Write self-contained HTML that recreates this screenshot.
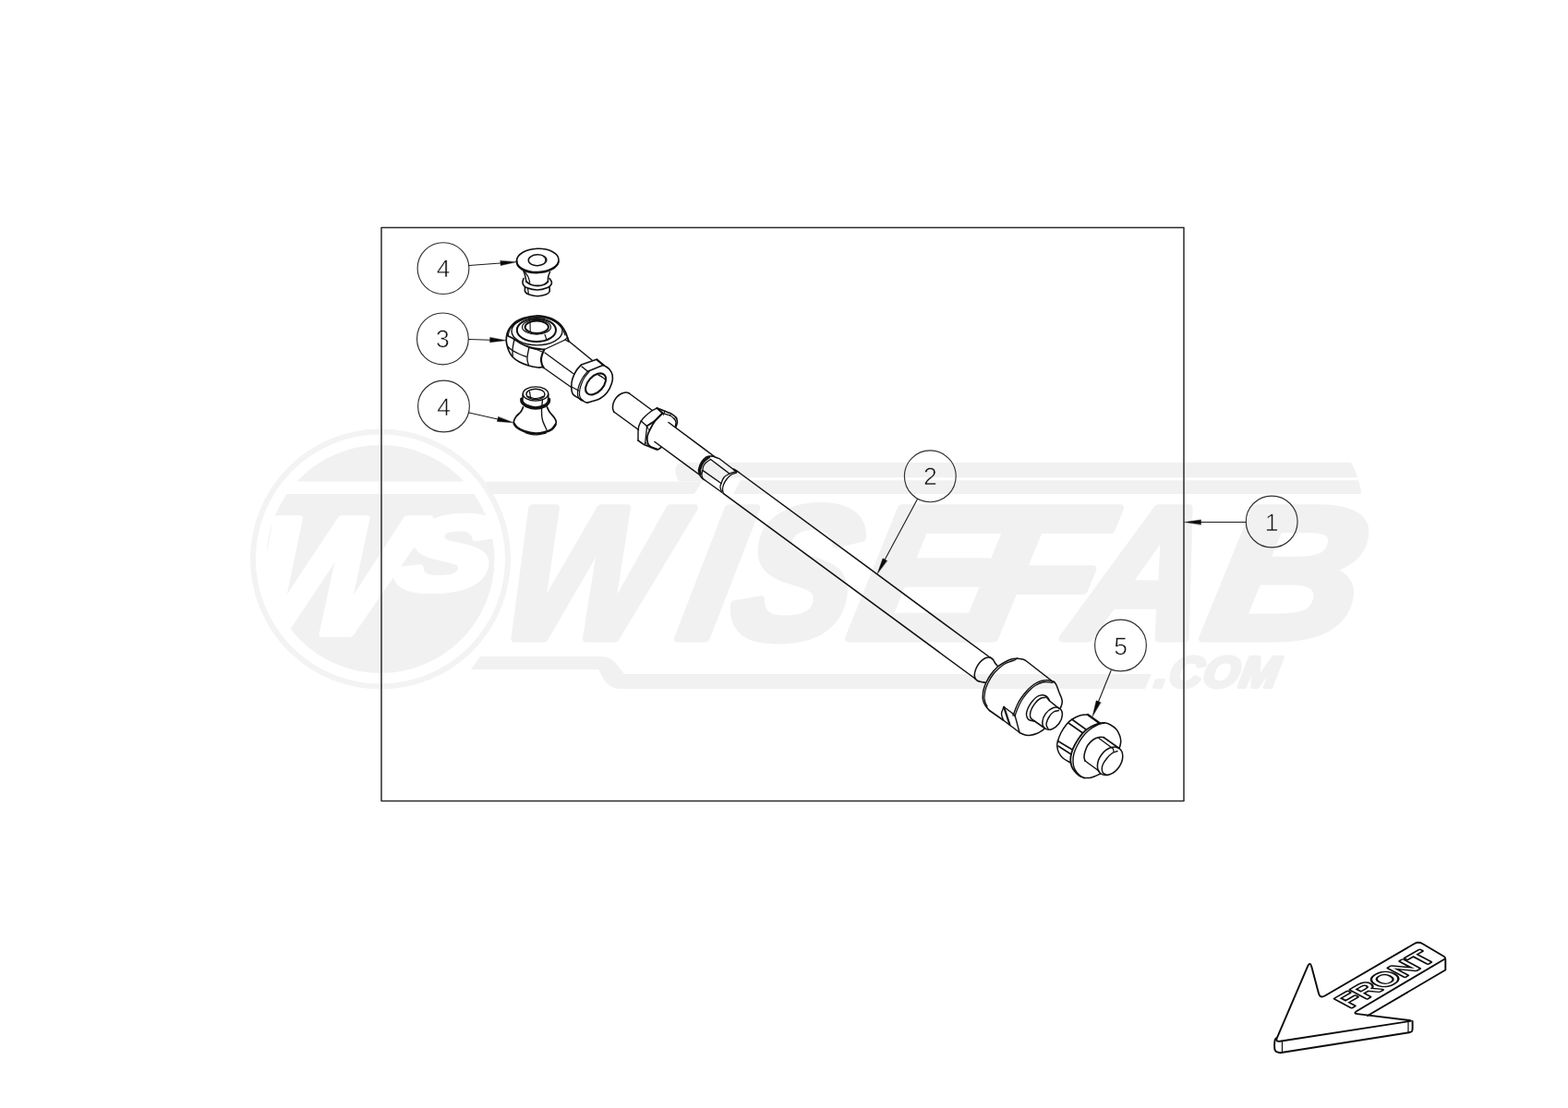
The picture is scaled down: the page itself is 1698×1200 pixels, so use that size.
<!DOCTYPE html>
<html lang="en"><head><meta charset="utf-8"><title>Tie rod assembly - exploded view</title>
<style>
html,body{margin:0;padding:0;background:#fff;}
body{width:1698px;height:1200px;overflow:hidden;font-family:"Liberation Sans",sans-serif;}
svg{display:block;filter:grayscale(1);}
.bt{font-family:"Liberation Sans",sans-serif;font-size:26.5px;text-anchor:middle;fill:#151515;stroke:#fafafa;stroke-width:0.55px;}
</style></head><body>
<svg width="1698" height="1200" viewBox="0 0 1698 1200" stroke-linecap="round" stroke-linejoin="round" text-rendering="geometricPrecision">
<rect width="1698" height="1200" fill="#fff"/>
<g id="wm">
<circle cx="412" cy="605.5" r="138" fill="none" stroke="#f3f3f3" stroke-width="6"/>
<circle cx="412" cy="605.5" r="123.5" fill="#f1f1f1"/>
<clipPath id="dc"><circle cx="412" cy="605.5" r="124.5"/></clipPath>
<rect x="280" y="521.5" width="260" height="13.5" fill="#fff" clip-path="url(#dc)"/>
<g clip-path="url(#dc)"><text transform="translate(0 685.5) skewX(-14)" font-family="Liberation Sans, sans-serif" font-weight="bold" font-style="italic" fill="#fff" stroke="#fff" stroke-width="8" stroke-linejoin="round"><tspan x="256" y="0" font-size="180" textLength="166" lengthAdjust="spacingAndGlyphs">W</tspan><tspan x="412" y="-48" font-size="112" textLength="102" lengthAdjust="spacingAndGlyphs">S</tspan></text></g>
<path d="M526 521.5L760 521.5L752 535L531 535Z" fill="#f1f1f1" stroke="none" stroke-width="0"/>
<path d="M742 501L1463 501Q1468 508 1470 517.3L800 517.3L760 521.5L735 521.5Q725 501 742 501Z" fill="#f1f1f1" stroke="none" stroke-width="0"/>
<path d="M802 520.3L1471 520.3Q1474 528 1474 535L794 535Z" fill="#f1f1f1" stroke="none" stroke-width="0"/>
<path d="M520 711L650 711Q662 711 668 720L676 730L1247 730L1240 746L672 746Q660 746 654 736L648 725L510 725Z" fill="#f1f1f1" stroke="none" stroke-width="0"/>
<text transform="translate(0 691) skewX(-10.8)" y="0" font-family="Liberation Sans, sans-serif" font-weight="bold" font-style="italic" font-size="204" fill="#f1f1f1" stroke="#f1f1f1" stroke-width="9" stroke-linejoin="round"><tspan x="536" textLength="175.7" lengthAdjust="spacingAndGlyphs">W</tspan><tspan x="731" textLength="57.49" lengthAdjust="spacingAndGlyphs">I</tspan><tspan x="786" textLength="129.16" lengthAdjust="spacingAndGlyphs">S</tspan><tspan x="916" textLength="150.48" lengthAdjust="spacingAndGlyphs">E</tspan><tspan x="1039" textLength="141.29" lengthAdjust="spacingAndGlyphs">F</tspan><tspan x="1155" textLength="142.52" lengthAdjust="spacingAndGlyphs">A</tspan><tspan x="1299" textLength="165.6" lengthAdjust="spacingAndGlyphs">B</tspan></text>
<text transform="translate(1249 743.5) skewX(-10) scale(1.06 1)" font-family="Liberation Sans, sans-serif" font-weight="bold" font-style="italic" font-size="47" fill="#f1f1f1" stroke="#f1f1f1" stroke-width="4" stroke-linejoin="round" letter-spacing="1">.COM</text>
</g>
<rect x="413" y="246.6" width="869" height="620.8" fill="none" stroke="#2b2b2b" stroke-width="1.5"/>
<circle cx="480" cy="290.6" r="27.9" fill="none" stroke="#303030" stroke-width="1.15"/>
<text x="480" y="300.1" class="bt">4</text>
<path d="M508.1 287.5 L541.95 285.03" fill="none" stroke="#1c1c1c" stroke-width="1.1"/>
<path d="M559.4 283.75 L542.14 287.62 L541.76 282.43Z" fill="#0a0a0a" stroke="#0a0a0a" stroke-width="0.4"/>
<circle cx="479.4" cy="366.9" r="27.9" fill="none" stroke="#303030" stroke-width="1.15"/>
<text x="479.4" y="376.4" class="bt">3</text>
<path d="M507.5 367.5 L530.61 368.21" fill="none" stroke="#1c1c1c" stroke-width="1.1"/>
<path d="M548.1 368.75 L530.53 370.81 L530.69 365.61Z" fill="#0a0a0a" stroke="#0a0a0a" stroke-width="0.4"/>
<circle cx="480.5" cy="440" r="27.9" fill="none" stroke="#303030" stroke-width="1.15"/>
<text x="480.5" y="449.5" class="bt">4</text>
<path d="M508 447 L538.93 453.96" fill="none" stroke="#1c1c1c" stroke-width="1.1"/>
<path d="M556 457.8 L538.36 456.5 L539.5 451.42Z" fill="#0a0a0a" stroke="#0a0a0a" stroke-width="0.4"/>
<circle cx="1007.3" cy="515.8" r="27.9" fill="none" stroke="#303030" stroke-width="1.15"/>
<text x="1007.3" y="525.3" class="bt">2</text>
<path d="M993.5 540.5 L958.28 606.08" fill="none" stroke="#1c1c1c" stroke-width="1.1"/>
<path d="M950 621.5 L955.99 604.85 L960.57 607.31Z" fill="#0a0a0a" stroke="#0a0a0a" stroke-width="0.4"/>
<circle cx="1377.2" cy="565" r="27.9" fill="none" stroke="#303030" stroke-width="1.15"/>
<text x="1377.2" y="574.5" class="bt">1</text>
<path d="M1349 565.5 L1300.5 565.5" fill="none" stroke="#1c1c1c" stroke-width="1.1"/>
<path d="M1283 565.5 L1300.5 562.9 L1300.5 568.1Z" fill="#0a0a0a" stroke="#0a0a0a" stroke-width="0.4"/>
<circle cx="1213.5" cy="699" r="27.9" fill="none" stroke="#303030" stroke-width="1.15"/>
<text x="1213.5" y="708.5" class="bt">5</text>
<path d="M1203 726.5 L1189.56 759.77" fill="none" stroke="#1c1c1c" stroke-width="1.1"/>
<path d="M1183 776 L1187.15 758.8 L1191.97 760.75Z" fill="#0a0a0a" stroke="#0a0a0a" stroke-width="0.4"/>
<path d="M604.99 281.11A22.75 12.6 -2 1 1 559.51 282.69A22.75 12.6 -2 1 1 604.99 281.11Z" fill="none" stroke="#111" stroke-width="1.61"/>
<path d="M604.94 283.21A22.75 12.6 -2 0 1 559.56 282.59" fill="none" stroke="#111" stroke-width="1.86"/>
<path d="M591.74 281.41A9.75 5.75 -2 1 1 572.26 282.09A9.75 5.75 -2 1 1 591.74 281.41Z" fill="none" stroke="#111" stroke-width="1.49"/>
<path d="M588.87 278.33A9.75 5.75 -2 0 1 589.92 284.02" fill="none" stroke="#111" stroke-width="0.99"/>
<path d="M566.5 292.5C566.83 293.42 567.92 295.92 568.5 298C569.08 300.08 569.75 303.83 570 305" fill="none" stroke="#111" stroke-width="1.49"/>
<path d="M568.5 294.5C569.08 295.42 571.12 298.08 572 300C572.88 301.92 573.46 305 573.75 306" fill="none" stroke="#111" stroke-width="1.24"/>
<path d="M595.5 294.5C595.21 295.33 594.12 297.75 593.75 299.5C593.38 301.25 593.33 304.08 593.25 305" fill="none" stroke="#111" stroke-width="1.49"/>
<path d="M570 305C570.83 305.54 573 307.5 575 308.25C577 309 579.67 309.5 582 309.5C584.33 309.5 587.08 309 589 308.25C590.92 307.5 592.75 305.54 593.5 305" fill="none" stroke="#111" stroke-width="1.86"/>
<path d="M567 301.5C566.83 302.08 566.08 303.92 566 305C565.92 306.08 565.83 306.92 566.5 308C567.17 309.08 567.42 310.5 570 311.5C572.58 312.5 578.17 314 582 314C585.83 314 590.5 312.5 593 311.5C595.5 310.5 596.29 309.08 597 308C597.71 306.92 597.58 306.08 597.25 305C596.92 303.92 595.38 302.08 595 301.5" fill="none" stroke="#111" stroke-width="1.61"/>
<path d="M568.5 310.75C568.54 311.62 568 314.62 568.75 316C569.5 317.38 570.79 318.21 573 319C575.21 319.79 579 320.75 582 320.75C585 320.75 588.83 319.79 591 319C593.17 318.21 594.33 317.33 595 316C595.67 314.67 595 311.83 595 311" fill="none" stroke="#111" stroke-width="1.61"/>
<path d="M571.5 312 L572.25 317.5" fill="none" stroke="#111" stroke-width="1.24"/>
<path d="M588 397.5C587.08 397.58 585.08 398.25 582.5 398C579.92 397.75 575.83 397 572.5 396C569.17 395 565.42 393.58 562.5 392C559.58 390.42 556.92 388.5 555 386.5C553.08 384.5 552.04 382.33 551 380C549.96 377.67 549.21 374.58 548.75 372.5C548.29 370.42 548.17 369.42 548.25 367.5C548.33 365.58 548.71 362.92 549.25 361C549.79 359.08 550.46 357.67 551.5 356C552.54 354.33 554.08 352.42 555.5 351C556.92 349.58 558 348.62 560 347.5C562 346.38 564.17 345.17 567.5 344.25C570.83 343.33 576.25 342.25 580 342C583.75 341.75 587.08 342.25 590 342.75C592.92 343.25 595.17 343.96 597.5 345C599.83 346.04 602.08 347.5 604 349C605.92 350.5 607.58 352.17 609 354C610.42 355.83 611.67 358.33 612.5 360C613.33 361.67 613.42 362.42 614 364C614.58 365.58 615.67 368.58 616 369.5" fill="none" stroke="#111" stroke-width="1.74"/>
<path d="M550.25 363C550.58 361.92 551.21 358.38 552.25 356.5C553.29 354.62 554.79 353.21 556.5 351.75C558.21 350.29 560.25 348.88 562.5 347.75C564.75 346.62 567.08 345.73 570 345C572.92 344.27 576.67 343.55 580 343.4C583.33 343.25 587.08 343.6 590 344.1C592.92 344.6 595.08 345.25 597.5 346.4C599.92 347.55 602.5 349.23 604.5 351C606.5 352.77 608.25 355 609.5 357C610.75 359 611.58 362 612 363" fill="none" stroke="#111" stroke-width="1.24"/>
<path d="M609 358.6A27.5 15.3 0 1 1 554 358.6A27.5 15.3 0 1 1 609 358.6Z" fill="none" stroke="#111" stroke-width="1.36"/>
<path d="M602 357.5A21.1 12.5 0 1 1 559.8 357.5A21.1 12.5 0 1 1 602 357.5Z" fill="none" stroke="#111" stroke-width="1.98"/>
<path d="M596.5 354.25A15.5 7.8 0 1 1 565.5 354.25A15.5 7.8 0 1 1 596.5 354.25Z" fill="none" stroke="#111" stroke-width="1.24"/>
<path d="M593.95 354.25A12.7 6.7 0 1 1 568.55 354.25A12.7 6.7 0 1 1 593.95 354.25Z" fill="none" stroke="#111" stroke-width="1.98"/>
<path d="M574 349.25 L574.25 359" fill="none" stroke="#111" stroke-width="1.12"/>
<path d="M590 362.25 L591.75 367.5" fill="none" stroke="#111" stroke-width="1.12"/>
<path d="M557 367.5C556.75 368.75 555.83 372.92 555.5 375C555.17 377.08 555.04 378.08 555 380C554.96 381.92 555.21 385.42 555.25 386.5" fill="none" stroke="#111" stroke-width="1.36"/>
<path d="M573 376C572.71 377.5 571.58 382.67 571.25 385C570.92 387.33 570.79 388.25 571 390C571.21 391.75 572.25 394.58 572.5 395.5" fill="none" stroke="#111" stroke-width="1.36"/>
<path d="M589.25 378.75C588.83 379.79 587.29 383.12 586.75 385C586.21 386.88 585.96 388.33 586 390C586.04 391.67 586.54 393.62 587 395C587.46 396.38 588.46 397.71 588.75 398.25" fill="none" stroke="#111" stroke-width="2.11"/>
<path d="M549.5 375C550.42 375.75 552.83 378.08 555 379.5C557.17 380.92 560 382.33 562.5 383.5C565 384.67 568.75 386 570 386.5" fill="none" stroke="#111" stroke-width="1.36"/>
<path d="M549.5 363.5C550.75 364.17 554.42 366 557 367.5C559.58 369 562.42 371.12 565 372.5C567.58 373.88 570 374.92 572.5 375.75C575 376.58 577.21 377.04 580 377.5C582.79 377.96 587.71 378.33 589.25 378.5" fill="none" stroke="#111" stroke-width="1.86"/>
<path d="M572.5 375.75C573.75 376.17 577.58 377.38 580 378.25C582.42 379.12 585.83 380.54 587 381" fill="none" stroke="#111" stroke-width="1.24"/>
<path d="M589.5 378.5 L612 368" fill="none" stroke="#111" stroke-width="1.36"/>
<path d="M590 382 L620 404 L621.5 405" fill="none" stroke="#111" stroke-width="1.36"/>
<path d="M589 398.5 L618 419 L619 419 L626.5 423" fill="none" stroke="#111" stroke-width="1.36"/>
<path d="M616 369.5 L641 390" fill="none" stroke="#111" stroke-width="1.49"/>
<path d="M612 368 L614.5 365.5 L615.5 370 L612 368" fill="none" stroke="#111" stroke-width="1.12"/>
<path d="M629.5 395C628.58 396.08 625.58 399 624 401.5C622.42 404 620.88 407.08 620 410C619.12 412.92 618.67 416.17 618.75 419C618.83 421.83 618.79 424.75 620.5 427C622.21 429.25 626.58 431 629 432.5C631.42 434 633.17 435.58 635 436C636.83 436.42 637.5 435.75 640 435C642.5 434.25 647.08 433.17 650 431.5C652.92 429.83 655.42 427.75 657.5 425C659.58 422.25 661.54 418.08 662.5 415C663.46 411.92 663.67 409 663.25 406.5C662.83 404 661.38 401.71 660 400C658.62 398.29 656.17 397 655 396.25C653.83 395.5 653.33 395.62 653 395.5" fill="none" stroke="#111" stroke-width="1.61"/>
<path d="M629.5 395 L646 389.25 L653 395.5 L636.5 402.25 L630 397" fill="none" stroke="#111" stroke-width="1.49"/>
<path d="M646.5 389.4 L654 395.75" fill="none" stroke="#111" stroke-width="1.98"/>
<path d="M636.5 402.25C635.58 403.38 632.58 406.46 631 409C629.42 411.54 627.92 414.83 627 417.5C626.08 420.17 625.58 422.75 625.5 425C625.42 427.25 625.75 429.5 626.5 431C627.25 432.5 629.42 433.5 630 434" fill="none" stroke="#111" stroke-width="1.24"/>
<path d="M638 402.5C637.08 403.67 634 407 632.5 409.5C631 412 629.83 414.92 629 417.5C628.17 420.08 627.62 422.83 627.5 425C627.38 427.17 627.58 429 628.25 430.5C628.92 432 630.96 433.42 631.5 434" fill="none" stroke="#111" stroke-width="1.24"/>
<path d="M654.2 405.79A13.6 8.3 -48 1 1 636 426.01A13.6 8.3 -48 1 1 654.2 405.79Z" fill="none" stroke="#111" stroke-width="2.11"/>
<path d="M647 405.5C648 406.08 651.75 408.17 653 409C654.25 409.83 654.25 410.25 654.5 410.5" fill="none" stroke="#111" stroke-width="1.24"/>
<path d="M681 425.75C680.5 425.62 679.42 424.88 678 425C676.58 425.12 674.25 425.58 672.5 426.5C670.75 427.42 668.88 428.83 667.5 430.5C666.12 432.17 664.92 434.58 664.25 436.5C663.58 438.42 663.42 440.42 663.5 442C663.58 443.58 664.54 445.33 664.75 446" fill="none" stroke="#111" stroke-width="1.54"/>
<path d="M681 425.75 L706 444.25" fill="none" stroke="#111" stroke-width="1.54"/>
<path d="M664.75 446 L691.5 465.5" fill="none" stroke="#111" stroke-width="1.54"/>
<path d="M694.25 456C694.79 455.33 695.71 453.75 697.5 452C699.29 450.25 702.67 447.17 705 445.5C707.33 443.83 710.42 442.58 711.5 442" fill="none" stroke="#111" stroke-width="1.43"/>
<path d="M711.5 442 L717.5 447.5" fill="none" stroke="#111" stroke-width="1.98"/>
<path d="M717.5 447.5C716.25 448.75 712.83 452.67 710 455C707.17 457.33 702.08 460.42 700.5 461.5" fill="none" stroke="#111" stroke-width="1.87"/>
<path d="M694.25 456 L700.5 461.5" fill="none" stroke="#111" stroke-width="1.43"/>
<path d="M694.25 456C693.95 456.67 692.42 459.73 692 461C691.58 462.27 691.23 463.37 691.1 465.5C690.97 467.63 691.01 475.47 691 477" fill="none" stroke="#111" stroke-width="1.43"/>
<path d="M691 477C691.76 477.52 696.1 480.71 697.5 481.5C698.9 482.29 701.31 483.11 703 483.75C704.69 484.39 710.48 486.91 712 487C713.52 487.09 715.53 484.79 716 484.5" fill="none" stroke="#111" stroke-width="1.65"/>
<path d="M700.5 461.5C700.42 462.5 700.33 464.25 700 467.5C699.67 470.75 698.75 478.75 698.5 481" fill="none" stroke="#111" stroke-width="1.32"/>
<path d="M717.5 447.5C716.25 448.75 712.25 452.08 710 455C707.75 457.92 705.5 462.08 704 465C702.5 467.92 701.42 470 701 472.5C700.58 475 700.83 478.08 701.5 480C702.17 481.92 703.25 482.92 705 484C706.75 485.08 710.83 486.08 712 486.5" fill="none" stroke="#111" stroke-width="1.76"/>
<path d="M700.75 462 L703 466" fill="none" stroke="#111" stroke-width="0.99"/>
<path d="M699 479 L702 483" fill="none" stroke="#111" stroke-width="0.99"/>
<path d="M711.5 442C712 442.19 719.07 444.88 720 445.25C720.93 445.62 726.77 447.98 727.5 448.4C728.23 448.82 732.16 451.97 732.5 452.5C732.84 453.03 733.43 456.93 733.4 457.5C733.37 458.07 732.08 461.97 732 462.25" fill="none" stroke="#111" stroke-width="1.65"/>
<path d="M717.5 447.5C718.25 447.73 723.75 449.15 725 449.75C726.25 450.35 729.3 452.73 730 453.5C730.7 454.27 731.88 456.65 732 457.5C732.12 458.35 731.33 461.55 731.25 462" fill="none" stroke="#111" stroke-width="1.32"/>
<path d="M720 445 L718.5 449.5" fill="none" stroke="#111" stroke-width="0.99"/>
<path d="M727.5 448.5 L725 449.75" fill="none" stroke="#111" stroke-width="0.99"/>
<path d="M732.5 452.5 L730 453.5" fill="none" stroke="#111" stroke-width="0.99"/>
<path d="M724 457.5 L773 494" fill="none" stroke="#111" stroke-width="1.54"/>
<path d="M709 478.5 L756.5 513.5" fill="none" stroke="#111" stroke-width="1.54"/>
<path d="M773 494.25C771.83 494.29 768.17 493.54 766 494.5C763.83 495.46 761.54 497.75 760 500C758.46 502.25 757.17 505.67 756.75 508C756.33 510.33 756.79 512.25 757.5 514C758.21 515.75 760.42 517.75 761 518.5" fill="none" stroke="#111" stroke-width="1.65"/>
<path d="M768 495C766.92 495.92 763.12 498.33 761.5 500.5C759.88 502.67 758.71 505.83 758.25 508C757.79 510.17 758.67 512.58 758.75 513.5" fill="none" stroke="#111" stroke-width="2.42"/>
<path d="M773 494.5C773.33 494.62 776.42 495.75 777 496C777.58 496.25 778.33 496.29 780 497.5C781.67 498.71 795.58 509.42 797 510.5" fill="none" stroke="#111" stroke-width="1.43"/>
<path d="M769.5 497.5 L790 513" fill="none" stroke="#111" stroke-width="1.43"/>
<path d="M761 509.5 L781 523.5" fill="none" stroke="#111" stroke-width="1.43"/>
<path d="M761 518.5C761.25 518.67 762.29 519.29 764 520.5C765.71 521.71 780.04 531.96 781.5 533" fill="none" stroke="#111" stroke-width="1.43"/>
<path d="M769.5 497.5C768.58 498.17 765.33 500.17 764 501.5C762.67 502.83 762 504.17 761.5 505.5C761 506.83 761.08 508.83 761 509.5" fill="none" stroke="#111" stroke-width="1.21"/>
<path d="M761 509.5C760.83 510.25 760 512.5 760 514C760 515.5 760.83 517.75 761 518.5" fill="none" stroke="#111" stroke-width="1.21"/>
<path d="M796.5 510.75C795.42 511.12 792.08 511.96 790 513C787.92 514.04 785.5 515.25 784 517C782.5 518.75 781.67 521.75 781 523.5C780.33 525.25 779.92 525.92 780 527.5C780.08 529.08 781.25 532.08 781.5 533" fill="none" stroke="#111" stroke-width="1.32"/>
<path d="M797.5 512C796.58 512.33 793.83 512.75 792 514C790.17 515.25 787.92 517.67 786.5 519.5C785.08 521.33 784.17 523.25 783.5 525C782.83 526.75 782.54 528.46 782.5 530C782.46 531.54 783.12 533.54 783.25 534.25" fill="none" stroke="#111" stroke-width="1.32"/>
<path d="M797.5 511.5C797.73 511.57 788.27 502.98 802 513C815.73 523.02 1058.5 702.05 1072 712" fill="none" stroke="#111" stroke-width="1.54"/>
<path d="M783.25 534.4 L1056 735" fill="none" stroke="#111" stroke-width="1.54"/>
<path d="M1072 712C1071.08 712.17 1068.33 712.08 1066.5 713C1064.67 713.92 1062.58 715.67 1061 717.5C1059.42 719.33 1057.96 721.75 1057 724C1056.04 726.25 1055.38 729.17 1055.25 731C1055.12 732.83 1056.08 734.33 1056.25 735" fill="none" stroke="#111" stroke-width="1.54"/>
<path d="M1072 711.75C1072.58 712.21 1074.58 713.46 1075.5 714.5C1076.42 715.54 1076.75 716.92 1077.5 718C1078.25 719.08 1079.58 720.5 1080 721" fill="none" stroke="#111" stroke-width="1.65"/>
<path d="M1056.25 735C1056.62 735.38 1057.46 736.67 1058.5 737.25C1059.54 737.83 1061.08 738.17 1062.5 738.5C1063.92 738.83 1066.25 739.12 1067 739.25" fill="none" stroke="#111" stroke-width="1.65"/>
<path d="M1101.5 713.1C1100.42 713.25 1097.33 713.27 1095 714C1092.67 714.73 1090 716.08 1087.5 717.5C1085 718.92 1082.42 720.33 1080 722.5C1077.58 724.67 1075 727.75 1073 730.5C1071 733.25 1069.33 736.17 1068 739C1066.67 741.83 1065.62 744.83 1065 747.5C1064.38 750.17 1064.33 753.33 1064.25 755C1064.17 756.67 1064.29 756.5 1064.5 757.5C1064.71 758.5 1064.92 759.67 1065.5 761C1066.08 762.33 1067 764.08 1068 765.5C1069 766.92 1070.92 768.83 1071.5 769.5" fill="none" stroke="#111" stroke-width="1.54"/>
<path d="M1100 714.5C1098.17 715.17 1092.08 716.92 1089 718.5C1085.92 720.08 1083.83 721.92 1081.5 724C1079.17 726.08 1076.92 728.42 1075 731C1073.08 733.58 1071.33 736.75 1070 739.5C1068.67 742.25 1067.67 744.92 1067 747.5C1066.33 750.08 1066.12 753.33 1066 755C1065.88 756.67 1066.08 756.5 1066.25 757.5C1066.42 758.5 1066.54 759.75 1067 761C1067.46 762.25 1068.67 764.33 1069 765" fill="none" stroke="#111" stroke-width="1.32"/>
<path d="M1101.5 713.1C1101.9 713.16 1106.83 713.81 1107.5 714C1108.17 714.19 1109.43 714.47 1111.5 716C1113.57 717.53 1136.5 735.5 1138.5 737C1140.5 738.5 1141.3 738.4 1141.5 738.5" fill="none" stroke="#111" stroke-width="1.54"/>
<path d="M1071.5 769.5 L1086.5 780" fill="none" stroke="#111" stroke-width="1.54"/>
<path d="M1086.5 780 L1104 793.25" fill="none" stroke="#111" stroke-width="1.54"/>
<path d="M1087 765.5C1086.58 766.75 1084.58 770.62 1084.5 773C1084.42 775.38 1086.17 778.62 1086.5 779.75" fill="none" stroke="#111" stroke-width="1.43"/>
<path d="M1087 765.5 L1097 773" fill="none" stroke="#111" stroke-width="1.43"/>
<path d="M1087.25 766 L1093.5 785" fill="none" stroke="#111" stroke-width="2.2"/>
<path d="M1097 773C1097.21 773.29 1098.92 774.81 1099.5 776.5C1100.08 778.19 1103.62 791.85 1104 793.25" fill="none" stroke="#111" stroke-width="1.43"/>
<path d="M1141.5 738.5C1140.42 738.21 1137.33 736.92 1135 736.75C1132.67 736.58 1130 736.79 1127.5 737.5C1125 738.21 1122.42 739.42 1120 741C1117.58 742.58 1115.25 744.67 1113 747C1110.75 749.33 1108.42 752.25 1106.5 755C1104.58 757.75 1102.92 760.58 1101.5 763.5C1100.08 766.42 1098.75 770.58 1098 772.5C1097.25 774.42 1097.17 774.58 1097 775" fill="none" stroke="#111" stroke-width="1.43"/>
<path d="M1140 739.25C1138.33 739.17 1133.17 738.21 1130 738.75C1126.83 739.29 1123.67 740.88 1121 742.5C1118.33 744.12 1116.17 746.25 1114 748.5C1111.83 750.75 1109.75 753.42 1108 756C1106.25 758.58 1104.83 761.25 1103.5 764C1102.17 766.75 1100.71 770.5 1100 772.5C1099.29 774.5 1099.38 775.42 1099.25 776" fill="none" stroke="#111" stroke-width="1.32"/>
<path d="M1141.5 738.5C1141.92 739.08 1143.08 740.08 1144 742C1144.92 743.92 1146.08 747.67 1147 750C1147.92 752.33 1148.96 754.33 1149.5 756C1150.04 757.67 1150.25 758.67 1150.25 760C1150.25 761.33 1149.88 762.75 1149.5 764C1149.12 765.25 1148.25 766.92 1148 767.5" fill="none" stroke="#111" stroke-width="1.54"/>
<path d="M1104 793.5C1105 793.92 1108 795.54 1110 796C1112 796.46 1113.92 796.5 1116 796.25C1118.08 796 1120.5 795.29 1122.5 794.5C1124.5 793.71 1126.5 792.42 1128 791.5C1129.5 790.58 1130.92 789.42 1131.5 789" fill="none" stroke="#111" stroke-width="1.54"/>
<path d="M1136.5 759C1136.25 758.5 1135.75 756.92 1135 756C1134.25 755.08 1133.08 754.04 1132 753.5C1130.92 752.96 1130 752.58 1128.5 752.75C1127 752.92 1124.83 753.29 1123 754.5C1121.17 755.71 1119.17 757.83 1117.5 760C1115.83 762.17 1114 765.17 1113 767.5C1112 769.83 1111.42 772.08 1111.5 774C1111.58 775.92 1112.58 777.92 1113.5 779C1114.42 780.08 1115.92 780.17 1117 780.5C1118.08 780.83 1119.5 780.92 1120 781" fill="none" stroke="#111" stroke-width="1.43"/>
<path d="M1131.5 755.5C1130.75 755.62 1128.67 755.33 1127 756.25C1125.33 757.17 1123.17 759.04 1121.5 761C1119.83 762.96 1118 765.83 1117 768C1116 770.17 1115.58 772.33 1115.5 774C1115.42 775.67 1115.75 776.92 1116.5 778C1117.25 779.08 1119.42 780.08 1120 780.5" fill="none" stroke="#111" stroke-width="1.43"/>
<path d="M1132.5 755C1132.71 755.46 1134.38 757.5 1135 758C1135.62 758.5 1136.46 758.46 1136.25 758C1136.04 757.54 1134.38 755.75 1133.75 755.25C1133.12 754.75 1132.29 754.54 1132.5 755Z" fill="none" stroke="#111" stroke-width="0.99"/>
<path d="M1136.5 759 L1147 767.5" fill="none" stroke="#111" stroke-width="1.54"/>
<path d="M1120 780.75 L1131.5 788.75" fill="none" stroke="#111" stroke-width="1.54"/>
<path d="M1131.67 789A13.4 8.9 126.3 1 1 1147.53 767.4A13.4 8.9 126.3 1 1 1131.67 789Z" fill="none" stroke="#111" stroke-width="1.54"/>
<path d="M1146.5 769.5C1145.58 769.75 1142.75 769.83 1141 771C1139.25 772.17 1137.29 774.5 1136 776.5C1134.71 778.5 1133.67 781.33 1133.25 783C1132.83 784.67 1133.21 785.46 1133.5 786.5C1133.79 787.54 1134.75 788.79 1135 789.25" fill="none" stroke="#111" stroke-width="1.43"/>
<path d="M1178 774C1176.67 774.12 1172.83 773.92 1170 774.75C1167.17 775.58 1163.5 777.38 1161 779C1158.5 780.62 1157 782.08 1155 784.5C1153 786.92 1150.58 790.5 1149 793.5C1147.42 796.5 1146.21 800.08 1145.5 802.5C1144.79 804.92 1144.58 805.92 1144.75 808C1144.92 810.08 1145.46 812.83 1146.5 815C1147.54 817.17 1148.83 819.12 1151 821C1153.17 822.88 1158.08 825.38 1159.5 826.25" fill="none" stroke="#111" stroke-width="1.54"/>
<path d="M1178 774 L1190.5 783" fill="none" stroke="#111" stroke-width="2.2"/>
<path d="M1161 779.25 L1176 790" fill="none" stroke="#111" stroke-width="1.54"/>
<path d="M1157 783 L1172 793.5" fill="none" stroke="#111" stroke-width="1.54"/>
<path d="M1145.5 802.5 L1160.5 811.5" fill="none" stroke="#111" stroke-width="1.54"/>
<path d="M1146 808 L1160 817" fill="none" stroke="#111" stroke-width="1.54"/>
<path d="M1190.5 783.25C1189.17 783.79 1185.08 785.12 1182.5 786.5C1179.92 787.88 1177.25 789.5 1175 791.5C1172.75 793.5 1170.92 795.83 1169 798.5C1167.08 801.17 1164.92 804.75 1163.5 807.5C1162.08 810.25 1161.21 812.5 1160.5 815C1159.79 817.5 1159.25 820 1159.25 822.5C1159.25 825 1159.79 827.92 1160.5 830C1161.21 832.08 1162.25 833.42 1163.5 835C1164.75 836.58 1166.25 838.25 1168 839.5C1169.75 840.75 1173 842 1174 842.5" fill="none" stroke="#111" stroke-width="1.81"/>
<path d="M1196 783C1194.58 783.42 1190.33 784.17 1187.5 785.5C1184.67 786.83 1181.58 788.83 1179 791C1176.42 793.17 1174.08 795.75 1172 798.5C1169.92 801.25 1168 804.58 1166.5 807.5C1165 810.42 1163.75 813.25 1163 816C1162.25 818.75 1162 821.5 1162 824C1162 826.5 1162.33 828.92 1163 831C1163.67 833.08 1164.83 834.92 1166 836.5C1167.17 838.08 1169.33 839.83 1170 840.5" fill="none" stroke="#111" stroke-width="1.43"/>
<path d="M1190.5 783.1C1191.42 783.04 1194 782.43 1196 782.75C1198 783.07 1200.33 783.79 1202.5 785C1204.67 786.21 1207.33 788.08 1209 790C1210.67 791.92 1211.71 794.42 1212.5 796.5C1213.29 798.58 1213.67 800.67 1213.75 802.5C1213.83 804.33 1213.29 806.17 1213 807.5C1212.71 808.83 1212.17 810 1212 810.5" fill="none" stroke="#111" stroke-width="1.54"/>
<path d="M1174 842.5C1175 842.5 1178.17 842.75 1180 842.5C1181.83 842.25 1183.08 841.75 1185 841C1186.92 840.25 1190.42 838.5 1191.5 838" fill="none" stroke="#111" stroke-width="1.54"/>
<path d="M1195 798.5C1194.17 798.5 1191.83 798.08 1190 798.5C1188.17 798.92 1186 799.58 1184 801C1182 802.42 1179.5 804.83 1178 807C1176.5 809.17 1175.67 811.83 1175 814C1174.33 816.17 1174 818.33 1174 820C1174 821.67 1174.83 823.33 1175 824" fill="none" stroke="#111" stroke-width="1.54"/>
<path d="M1175 824 L1190 835" fill="none" stroke="#111" stroke-width="1.54"/>
<path d="M1195 798.5 L1212 810.5" fill="none" stroke="#111" stroke-width="1.54"/>
<path d="M1190 799.5 L1205.5 811 L1206 814" fill="none" stroke="#111" stroke-width="1.32"/>
<path d="M1192.09 837.92A16.9 11.6 126.3 1 1 1212.11 810.68A16.9 11.6 126.3 1 1 1192.09 837.92Z" fill="none" stroke="#111" stroke-width="1.54"/>
<path d="M1210 813.5C1209 813.92 1205.92 814.67 1204 816C1202.08 817.33 1200.08 819.58 1198.5 821.5C1196.92 823.42 1195.38 825.67 1194.5 827.5C1193.62 829.33 1193.25 830.92 1193.25 832.5C1193.25 834.08 1193.71 835.92 1194.5 837C1195.29 838.08 1197.42 838.67 1198 839" fill="none" stroke="#111" stroke-width="1.43"/>
<path d="M593.75 426.5A13.75 7.6 0 1 1 566.25 426.5A13.75 7.6 0 1 1 593.75 426.5Z" fill="none" stroke="#111" stroke-width="1.43"/>
<path d="M590 426.9A10 5.7 0 1 1 570 426.9A10 5.7 0 1 1 590 426.9Z" fill="none" stroke="#111" stroke-width="1.43"/>
<path d="M573.5 424.25 L574.5 430" fill="none" stroke="#111" stroke-width="1.24"/>
<path d="M572.25 429.5C572.88 429.71 574.71 430.42 576 430.75C577.29 431.08 578.58 431.5 580 431.5C581.42 431.5 583.17 431.12 584.5 430.75C585.83 430.38 587.42 429.5 588 429.25" fill="none" stroke="#111" stroke-width="1.12"/>
<path d="M566.25 427 L566 431.5" fill="none" stroke="#111" stroke-width="1.61"/>
<path d="M593.75 427 L593.75 432" fill="none" stroke="#111" stroke-width="1.61"/>
<path d="M564.9 432.25C565 432.83 564.65 434.54 565.5 435.75C566.35 436.96 567.58 438.46 570 439.5C572.42 440.54 576.67 442 580 442C583.33 442 587.68 440.54 590 439.5C592.32 438.46 593.15 436.92 593.9 435.75C594.65 434.58 594.4 433.04 594.5 432.5" fill="none" stroke="#111" stroke-width="3.6"/>
<path d="M566.5 441C566.08 441.83 565.25 444.33 564 446C562.75 447.67 560.25 449.33 559 451C557.75 452.67 556.88 454.67 556.5 456C556.12 457.33 556.71 458.5 556.75 459" fill="none" stroke="#111" stroke-width="1.74"/>
<path d="M592.5 441C592.92 441.83 593.75 444.17 595 446C596.25 447.83 598.79 450.25 600 452C601.21 453.75 602 455.17 602.25 456.5C602.5 457.83 601.62 459.42 601.5 460" fill="none" stroke="#111" stroke-width="1.74"/>
<path d="M556.75 459C557.29 459.67 558.21 461.67 560 463C561.79 464.33 564.17 465.92 567.5 467C570.83 468.08 576.25 469.33 580 469.5C583.75 469.67 587.08 468.75 590 468C592.92 467.25 595.58 466.33 597.5 465C599.42 463.67 600.83 460.83 601.5 460" fill="none" stroke="#111" stroke-width="2.48"/>
<path d="M569 468.75C570.83 469.12 576.33 470.92 580 471C583.67 471.08 589.17 469.54 591 469.25" fill="none" stroke="#111" stroke-width="1.24"/>
<path d="M587.5 433C587.33 435 586.5 441.33 586.5 445C586.5 448.67 586.58 451.58 587.5 455C588.42 458.42 591.25 463.75 592 465.5" fill="none" stroke="#111" stroke-width="1.36"/>
<path d="M1415.85 1047.04Q1418.6 1040.6 1420.4 1047.36L1427.95 1075.7Q1429.5 1081.5 1434.69 1078.48L1531.68 1022.02Q1536 1019.5 1540.31 1022.04L1563.49 1035.72Q1566.5 1037.5 1563.49 1039.28L1469.3 1094.96Q1465 1097.5 1469.96 1098.11L1526.03 1105.01Q1530 1105.5 1526.05 1106.11L1385.94 1127.74Q1381 1128.5 1382.97 1123.9Z" fill="none" stroke="#0c0c0c" stroke-width="1.92"/>
<path d="M1381.8 1124.5C1381.61 1124.9 1380.6 1125.97 1380.4 1127.5C1380.2 1129.03 1380.09 1134.47 1380.3 1136C1380.51 1137.53 1381.24 1138.44 1382 1139C1382.76 1139.56 1385.47 1140.04 1386 1140.2" fill="none" stroke="#0c0c0c" stroke-width="1.92"/>
<path d="M1386 1140.2 L1526 1118.2" fill="none" stroke="#0c0c0c" stroke-width="1.92"/>
<path d="M1526 1118.2C1526.4 1118.04 1528.52 1117.56 1529 1117C1529.48 1116.44 1529.52 1115.47 1529.6 1114C1529.68 1112.53 1529.6 1107.07 1529.6 1106" fill="none" stroke="#0c0c0c" stroke-width="1.92"/>
<path d="M1388.5 1128.5 L1388.5 1139.5" fill="none" stroke="#0c0c0c" stroke-width="1.2"/>
<path d="M1525 1107.5 L1525 1118" fill="none" stroke="#0c0c0c" stroke-width="1.2"/>
<path d="M1565.3 1039 L1565.3 1050.5 L1481 1100" fill="none" stroke="#0c0c0c" stroke-width="1.92"/>
<text transform="matrix(1.16 -0.665 1.10 0.585 1461.4 1092.2)" x="0" y="0" font-family="Liberation Sans, sans-serif" font-size="23.4" stroke-linejoin="round" letter-spacing="0.2" vector-effect="non-scaling-stroke" fill="#fff" stroke="#0c0c0c" stroke-width="3.1" paint-order="stroke">FRONT</text>
</svg>
</body></html>
